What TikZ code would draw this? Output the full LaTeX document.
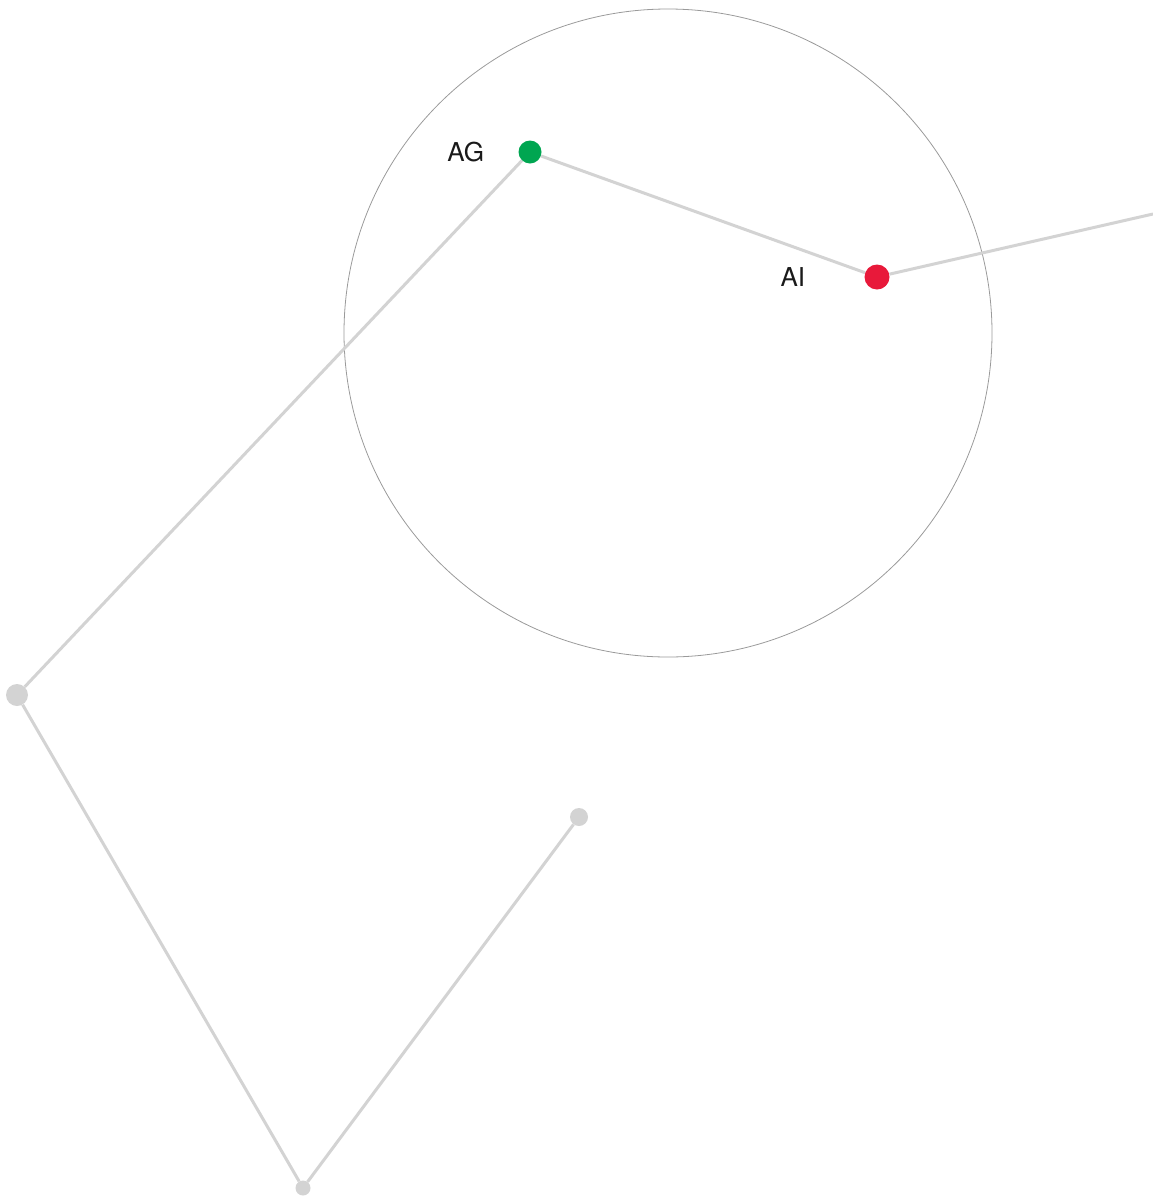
\documentclass[tikz,border=0pt]{standalone}
\usepackage{fontspec}
\setmainfont{TeX Gyre Heros}
\usepackage{tikz}
\usetikzlibrary{positioning}
\definecolor{aggreen}{HTML}{00A651}
\definecolor{aired}{HTML}{E8193A}
\definecolor{linkgray}{HTML}{D3D3D3}
\definecolor{ringgray}{HTML}{9A9A9A}
\definecolor{labelblack}{HTML}{1A1A1A}

\begin{document}
\begin{tikzpicture}[x=1pt,y=-1pt, every node/.style={font=\fontsize{26}{30}\selectfont,text=labelblack}]
  \useasboundingbox (0,0) rectangle (1153,1200);
  \node[draw=ringgray,circle,line width=0.8pt,minimum size=648pt,inner sep=0pt] (ring) at (668,333) {};
  \node[circle,inner sep=0pt,fill=aggreen,minimum size=23pt] (ag) at (530,152) {};
  \node[circle,inner sep=0pt,fill=aired,minimum size=25pt] (ai) at (877,277) {};
  \node[circle,inner sep=0pt,fill=linkgray,minimum size=22pt] (left) at (17,695) {};
  \node[circle,inner sep=0pt,fill=linkgray,minimum size=15pt] (bottom) at (303,1188) {};
  \node[circle,inner sep=0pt,fill=linkgray,minimum size=18pt] (mid) at (579,817) {};
  \coordinate (edge) at (1153,214);
  \node[inner sep=0pt,left=34pt of ag] (aglabel) {AG};
  \node[inner sep=0pt,left=59pt of ai] (ailabel) {AI};
  \draw[linkgray,line width=3pt] (ag) -- (ai);
  \draw[linkgray,line width=3pt] (ai) -- (edge);
  \draw[linkgray,line width=3pt] (ag) -- (left);
  \draw[linkgray,line width=3pt] (left) -- (bottom);
  \draw[linkgray,line width=3pt] (bottom) -- (mid);
\end{tikzpicture}
\end{document}
